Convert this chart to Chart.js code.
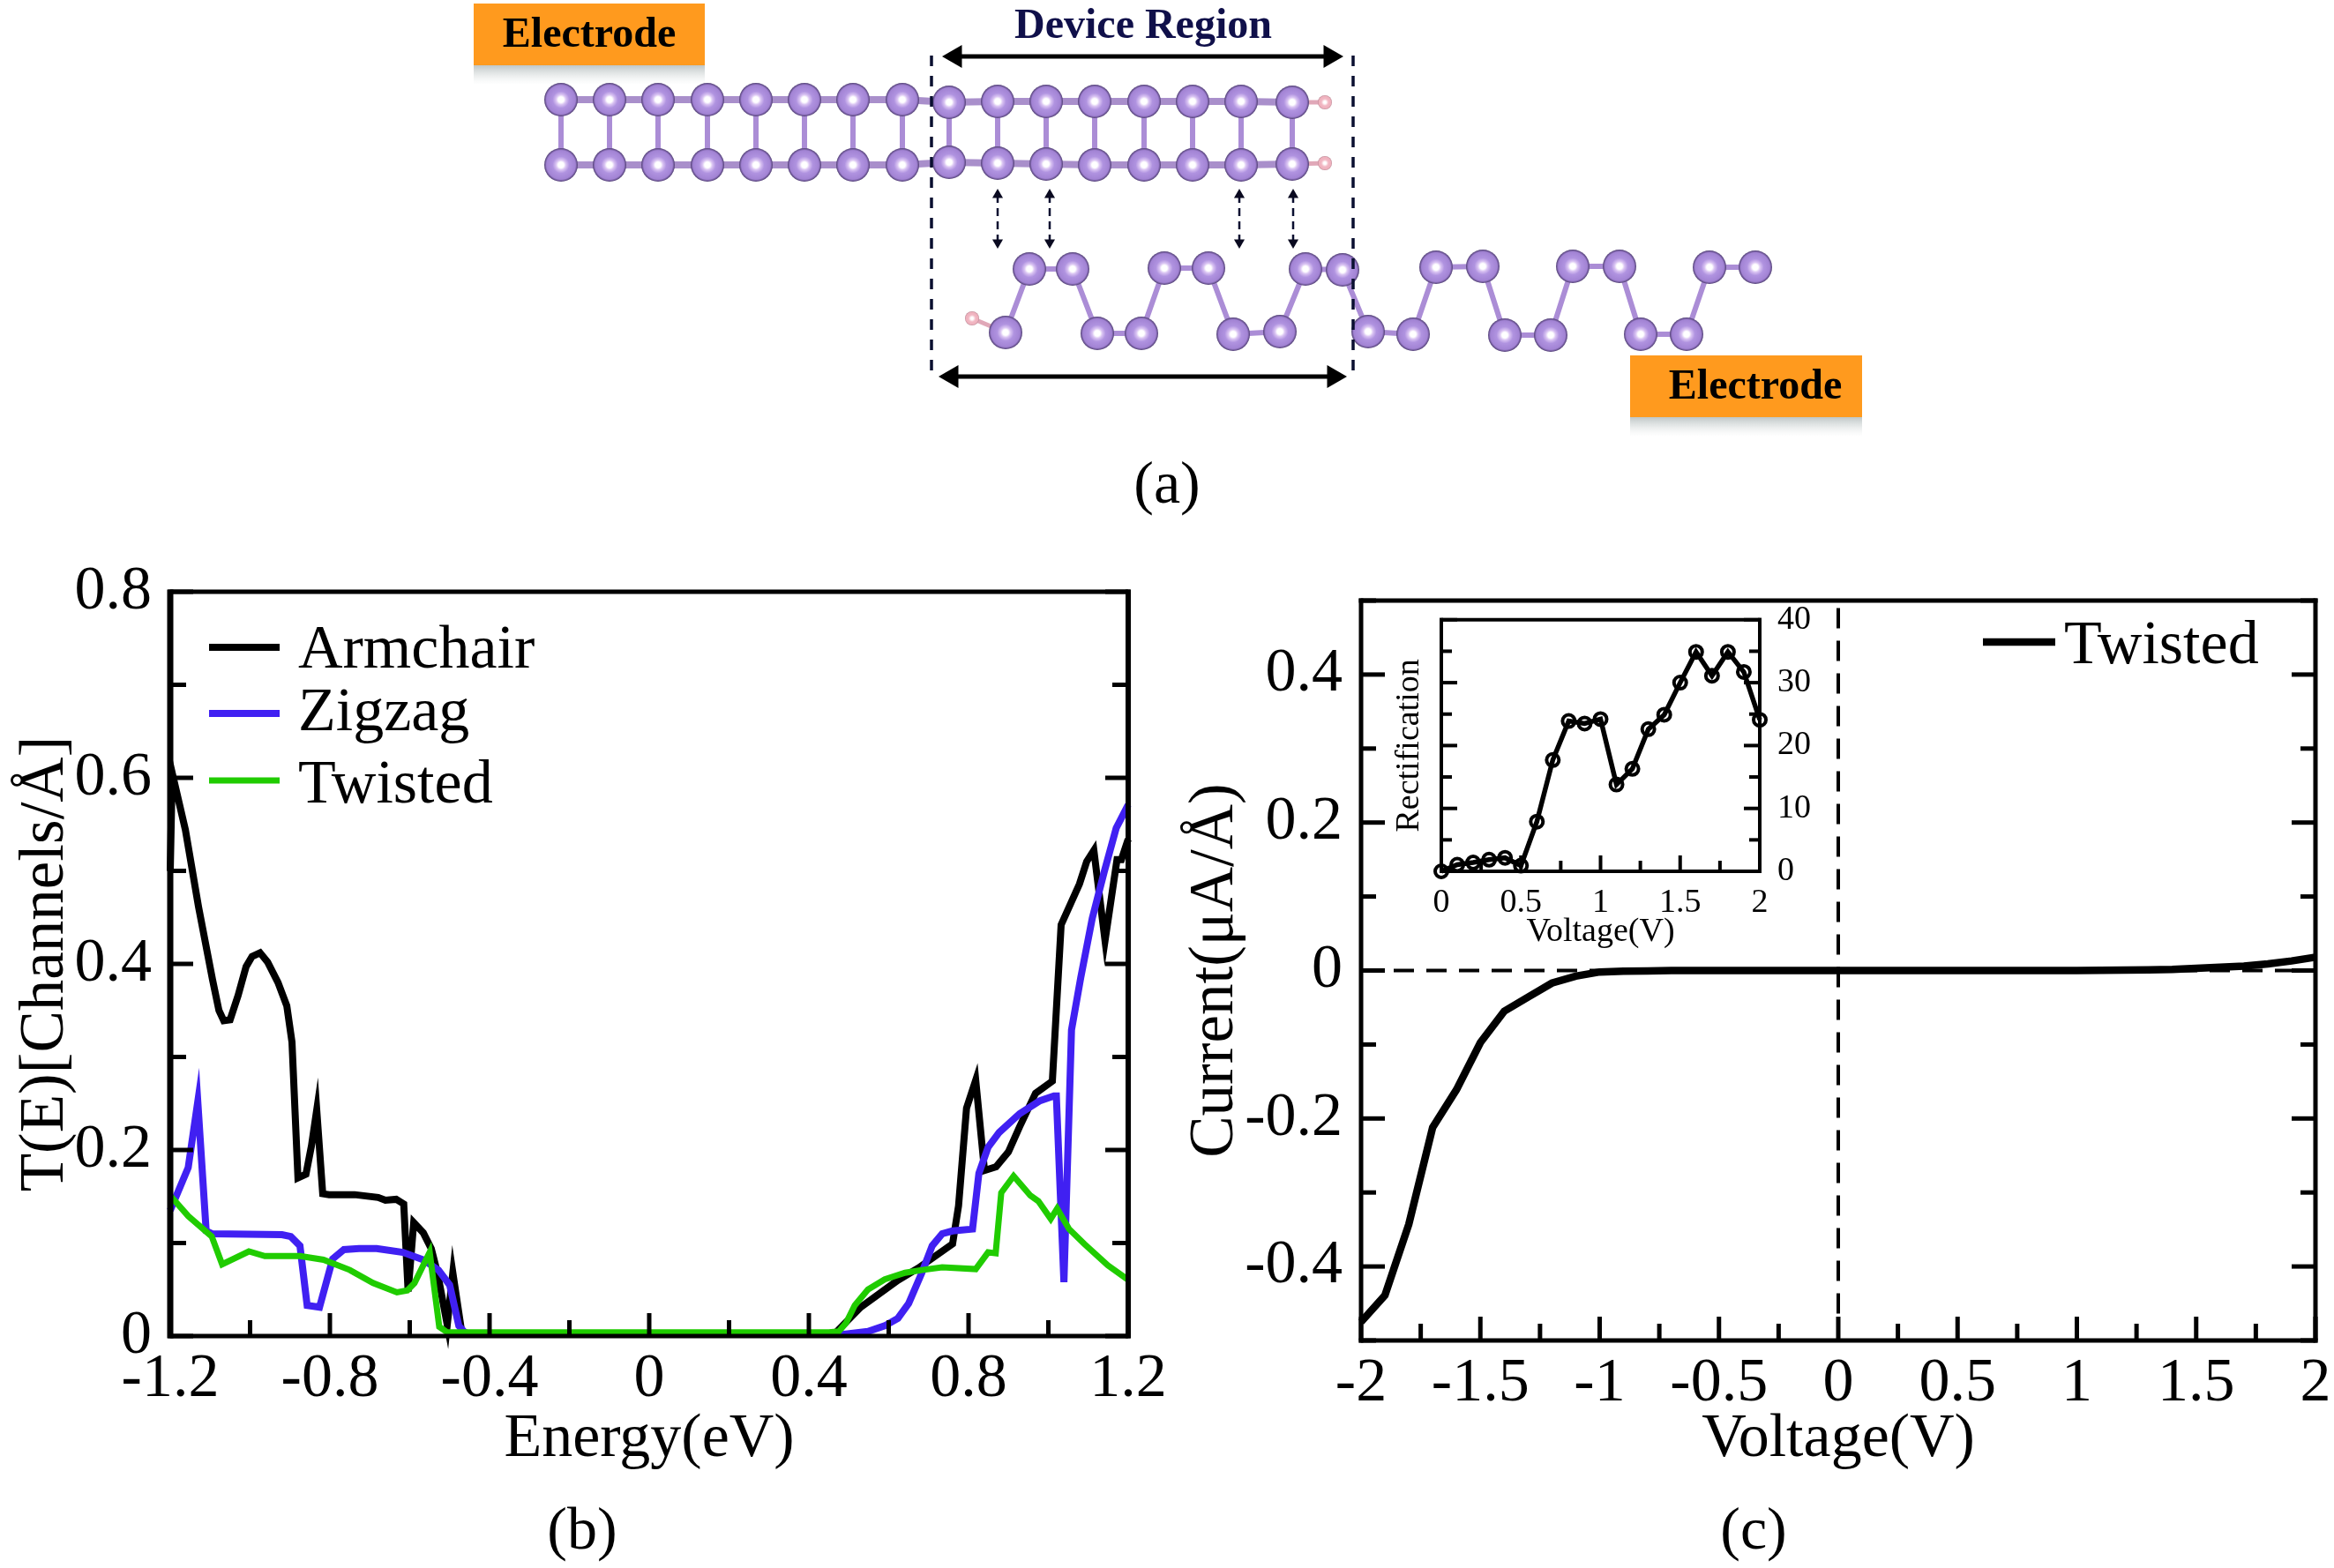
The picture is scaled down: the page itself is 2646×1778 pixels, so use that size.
<!DOCTYPE html>
<html>
<head>
<meta charset="utf-8">
<title>Device schematic, transmission and current-voltage</title>
<script src="https://cdn.jsdelivr.net/npm/chart.js@4/dist/chart.umd.min.js"></script>
<style>
html,body{margin:0;padding:0;background:#fff;width:2646px;height:1778px;overflow:hidden}
canvas{position:absolute;display:block}
</style>
</head>
<body>
<canvas id="schematic" width="2646" height="1778" style="left:0px;top:0px"></canvas>
<canvas id="chartB" width="1360" height="1100" style="left:0px;top:608px"></canvas>
<canvas id="chartC" width="1346" height="1090" style="left:1320px;top:618px"></canvas>
<canvas id="inset" width="500" height="420" style="left:1560px;top:660px"></canvas>
<script>
/* ---------- panel (b): transmission ---------- */
const energyArmchair = [-1.2,-1.195,-1.162,-1.129,-1.094,-1.078,-1.066,-1.05,-1.03,-1.01,-0.995,-0.975,-0.956,-0.93,-0.908,-0.895,-0.88,-0.86,-0.846,-0.833,-0.818,-0.802,-0.738,-0.679,-0.661,-0.634,-0.615,-0.604,-0.59,-0.566,-0.546,-0.53,-0.506,-0.492,-0.47,-0.45,0.45,0.466,0.53,0.623,0.674,0.76,0.775,0.795,0.818,0.84,0.869,0.9,0.928,0.968,1.01,1.032,1.078,1.096,1.114,1.142,1.172,1.183,1.2];
const transArmchair = [0.5,0.605,0.544,0.461,0.383,0.35,0.339,0.34,0.366,0.397,0.408,0.412,0.402,0.38,0.355,0.316,0.17,0.174,0.205,0.243,0.153,0.152,0.152,0.149,0.146,0.147,0.142,0.048,0.122,0.111,0.094,0.067,0.012,0.068,0.005,0.002,0.002,0.003,0.031,0.06,0.073,0.099,0.14,0.245,0.275,0.178,0.182,0.198,0.225,0.261,0.274,0.442,0.486,0.51,0.522,0.425,0.512,0.512,0.534];
const energyZigzag = [-1.2,-1.155,-1.131,-1.11,-1.096,-0.92,-0.898,-0.875,-0.857,-0.826,-0.793,-0.765,-0.727,-0.683,-0.617,-0.566,-0.528,-0.5,-0.477,-0.46,-0.449,0.488,0.548,0.59,0.623,0.65,0.683,0.709,0.734,0.76,0.81,0.826,0.849,0.877,0.928,0.979,1.014,1.02,1.039,1.058,1.081,1.11,1.14,1.17,1.2];
const transZigzag = [0.135,0.181,0.252,0.113,0.11,0.109,0.107,0.097,0.033,0.031,0.083,0.093,0.094,0.094,0.09,0.082,0.071,0.055,0.011,0.003,0.002,0.002,0.005,0.011,0.019,0.035,0.068,0.097,0.11,0.113,0.115,0.175,0.203,0.219,0.239,0.253,0.258,0.258,0.058,0.329,0.385,0.449,0.499,0.546,0.571];
const energyTwisted = [-1.198,-1.155,-1.096,-1.07,-1.003,-0.963,-0.875,-0.816,-0.75,-0.692,-0.632,-0.606,-0.588,-0.55,-0.526,-0.506,-0.45,0.45,0.475,0.493,0.515,0.548,0.59,0.641,0.683,0.734,0.818,0.849,0.868,0.882,0.913,0.955,0.975,1.006,1.022,1.052,1.09,1.149,1.198];
const transTwisted = [0.15,0.129,0.107,0.077,0.091,0.086,0.086,0.082,0.071,0.057,0.047,0.049,0.057,0.09,0.01,0.004,0.004,0.004,0.005,0.014,0.033,0.05,0.061,0.068,0.071,0.074,0.072,0.09,0.089,0.154,0.172,0.151,0.145,0.126,0.137,0.115,0.099,0.076,0.061];
const energyTicks = [-1.2,-0.8,-0.4,0,0.4,0.8,1.2];
const energyMinor = [-1,-0.6,-0.2,0.2,0.6,1];
const transTicks = [0,0.2,0.4,0.6,0.8];
const transMinor = [0.1,0.3,0.5,0.7];

/* ---------- panel (c): current-voltage ---------- */
const voltage = [-2,-1.9,-1.8,-1.7,-1.6,-1.5,-1.4,-1.3,-1.2,-1.1,-1,-0.9,-0.8,-0.7,-0.6,-0.5,-0.4,-0.3,-0.2,-0.1,0,0.1,0.2,0.3,0.4,0.5,0.6,0.7,0.8,0.9,1,1.1,1.2,1.3,1.4,1.5,1.6,1.7,1.8,1.9,2];
const current = [-0.475,-0.439,-0.343,-0.212,-0.161,-0.0975,-0.055,-0.036,-0.017,-0.0076,-0.002,-0.001,-0.0005,0,0,0,0,0,0,0,0,0,0,0,0,0,0,0,0,0,0,0.0002,0.0005,0.001,0.0015,0.003,0.0045,0.006,0.009,0.013,0.018];
const voltTicks = [-2,-1.5,-1,-0.5,0,0.5,1,1.5,2];
const voltMinor = [-1.75,-1.25,-0.75,-0.25,0.25,0.75,1.25,1.75];
const currTicks = [-0.4,-0.2,0,0.2,0.4];
const currMinor = [-0.5,-0.3,-0.1,0.1,0.3,0.5];

/* ---------- inset: rectification ---------- */
const insetVoltage = [0,0.1,0.2,0.3,0.4,0.5,0.6,0.7,0.8,0.9,1,1.1,1.2,1.3,1.4,1.5,1.6,1.7,1.8,1.9,2];
const rectification = [0,1.05,1.4,1.85,2.15,0.9,7.9,17.7,23.9,23.5,24.2,13.8,16.3,22.6,24.9,30,34.9,31.1,34.9,31.7,24.1];
const insetXTicks = [0,0.5,1,1.5,2];
const insetXMinor = [0.25,0.75,1.25,1.75];
const insetYTicks = [0,10,20,30,40];
const insetYMinor = [5,15,25,35];

/* ---------- panel (a): schematic, in page units ---------- */
const armTopX = [636,691,746,802,857,912,967,1023,1076,1131,1186,1241,1297,1352,1407,1465];
const armTopY = [113,113,113,113,113,113,113,113,116,115,115,115,115,115,115,116];
const armBotY = [187,187,187,187,187,187,187,187,184,185,186,187,187,187,187,186];
const twistX = [1140,1167,1216,1244,1294,1320,1370,1398,1451,1480,1522,1551,1602,1628,1681,1706,1758,1783,1836,1860,1912,1938,1990];
const twistY = [377,305,305,378,378,304,304,379,376,305,306,376,379,303,302,380,380,302,302,379,379,303,303];
const hydrogenX = [1502,1502,1102];
const hydrogenY = [116,185,361];
const deviceFrameX = [1056,1534];
const deviceFrameY = [63,425];
const smallArrowX = [1131,1190,1405,1466];
const smallArrowY = [221,275];
const spanArrowTopX = [1083,1508];
const spanArrowTopY = [64,64];
const spanArrowBottomX = [1079,1512];
const spanArrowBottomY = [427,427];

const SERIF = "'Liberation Serif','Times New Roman',serif";
const NAVY = '#0a0f30';

function pts(xs, ys){ return xs.map((x,i)=>({x, y:ys[i]})); }
function pairs(list){ const out=[]; list.forEach(([a,b])=>{out.push(a,b,{x:NaN,y:NaN});}); return out; }

function sprite(r, hi, mid, body, rim){
  const c=document.createElement('canvas'); c.width=c.height=2*r+2;
  const g=c.getContext('2d');
  const grad=g.createRadialGradient(r+1,r+1,0,r+1,r+1,r);
  grad.addColorStop(0,'#ffffff'); grad.addColorStop(0.17,'#ffffff'); grad.addColorStop(0.3,hi); grad.addColorStop(0.5,mid);
  grad.addColorStop(0.86,body); grad.addColorStop(1,rim);
  g.fillStyle=grad; g.beginPath(); g.arc(r+1,r+1,r,0,Math.PI*2); g.fill();
  return c;
}
const atomSprite = sprite(19,'#d9c3f2','#b093e0','#a283d4','#4f3d72');
const hSprite = sprite(8,'#fbe6ea','#f2b8c4','#eeb0bc','#b98694');

/* frame and inward ticks, positioned through the chart's own scales */
function framePlugin(c){
  return {id:'frame', afterDatasetsDraw(chart){
    const ctx=chart.ctx, a=chart.chartArea, xs=chart.scales.x, ys=chart.scales.y;
    ctx.save(); ctx.strokeStyle='#000'; ctx.lineCap='butt';
    const seg=(x1,y1,x2,y2,w)=>{ctx.lineWidth=w;ctx.beginPath();ctx.moveTo(x1,y1);ctx.lineTo(x2,y2);ctx.stroke();};
    const pad=c.top/2;
    seg(a.left-pad,a.top,a.right+pad,a.top,c.top);
    seg(a.left-pad,a.bottom,a.right+pad,a.bottom,c.bottom);
    seg(a.left,a.top-pad,a.left,a.bottom+pad,c.left);
    seg(a.right,a.top-pad,a.right,a.bottom+pad,c.right);
    const xt=(v,l)=>{const p=xs.getPixelForValue(v);seg(p,a.bottom,p,a.bottom-l,c.tick);};
    const yt=(v,l)=>{const p=ys.getPixelForValue(v);seg(a.left,p,a.left+l,p,c.tick);seg(a.right,p,a.right-l,p,c.tick);};
    c.xMajor.forEach(v=>xt(v,c.lenX[0])); c.xMinor.forEach(v=>xt(v,c.lenX[1]));
    c.yMajor.forEach(v=>yt(v,c.lenY[0])); c.yMinor.forEach(v=>yt(v,c.lenY[1]));
    ctx.restore();
  }};
}

/* line-and-label key, read from the datasets */
function keyPlugin(keys){
  return {id:'key', afterDraw(chart){
    const ctx=chart.ctx;
    ctx.save(); ctx.textAlign='left'; ctx.textBaseline='alphabetic'; ctx.fillStyle='#000';
    ctx.font='70px '+SERIF;
    keys.forEach(k=>{
      const ds=chart.data.datasets[k.index];
      ctx.strokeStyle=ds.borderColor; ctx.lineWidth=ds.borderWidth;
      ctx.beginPath(); ctx.moveTo(k.x1,k.y); ctx.lineTo(k.x2,k.y); ctx.stroke();
      ctx.fillText(ds.label,k.tx,k.by);
    });
    ctx.restore();
  }};
}

function axisCommon(ticks, fontSize, pad, labelOffset){
  return {
    type:'linear', border:{display:false}, grid:{display:false,drawTicks:false},
    afterBuildTicks(s){ s.ticks=ticks.map(v=>({value:v})); },
    ticks:{autoSkip:false,maxRotation:0,minRotation:0,padding:pad,labelOffset:labelOffset||0,color:'#000',font:{family:SERIF,size:fontSize},callback:v=>String(v)}
  };
}
function title(text,size,padTop){ return {display:true,text,color:'#000',font:{family:SERIF,size},padding:{top:padTop,bottom:0}}; }
function base(){ return {responsive:false,animation:false,devicePixelRatio:1,plugins:{legend:{display:false},tooltip:{enabled:false},title:{display:false}}}; }
function lineSet(label,xs,ys,color,width,order,extra){
  return Object.assign({label,data:pts(xs,ys),borderColor:color,borderWidth:width,showLine:true,pointRadius:0,tension:0,
    borderJoinStyle:'miter',borderCapStyle:'butt',clip:false,order},extra||{});
}

/* ---------- chart (b) ---------- */
new Chart(document.getElementById('chartB'),{
  type:'scatter',
  data:{datasets:[
    lineSet('Armchair',energyArmchair,transArmchair,'#000000',8,3),
    lineSet('Zigzag',energyZigzag,transZigzag,'#4020f2',8,2),
    lineSet('Twisted',energyTwisted,transTwisted,'#20cc00',7,1)
  ]},
  options:Object.assign(base(),{
    layout:{autoPadding:false,padding:{left:0,top:60,right:81,bottom:33}},
    scales:{
      x:Object.assign(axisCommon(energyTicks,70,8),{min:-1.2,max:1.2,title:title('Energy(eV)',70,0),afterFit(s){s.height=160;}}),
      y:Object.assign(axisCommon(transTicks,70,21,1),{min:0,max:0.8,title:title('T(E)[Channels/Å]',71,10),afterFit(s){s.width=193;}})
    }
  }),
  plugins:[
    framePlugin({top:5,bottom:5,left:7,right:6,tick:5,xMajor:energyTicks,xMinor:energyMinor,yMajor:transTicks,yMinor:transMinor,lenX:[26,18],lenY:[26,18]}),
    keyPlugin([
      {index:0,x1:237,x2:317,y:734-608,tx:338,by:757-608},
      {index:1,x1:237,x2:317,y:809-608,tx:338,by:828-608},
      {index:2,x1:237,x2:317,y:885-608,tx:338,by:910-608}
    ])
  ]
});

/* ---------- chart (c) ---------- */
new Chart(document.getElementById('chartC'),{
  type:'scatter',
  data:{datasets:[
    lineSet('Twisted',voltage,current,'#000000',8.5,1),
    lineSet('zero current',[-2,2],[0,0],'#000000',4,2,{borderDash:[23,14]}),
    lineSet('zero voltage',[0,0],[0.49,-0.5],'#000000',4,2,{borderDash:[23,14]})
  ]},
  options:Object.assign(base(),{
    layout:{autoPadding:false,padding:{left:0,top:60,right:41,bottom:33}},
    scales:{
      x:Object.assign(axisCommon(voltTicks,70,8),{min:-2,max:2,title:title('Voltage(V)',70,0),afterFit(s){s.height=155;}}),
      y:Object.assign(axisCommon(currTicks,70,21),{min:-0.5,max:0.5,title:title('Current(μA/Å)',71,16),afterFit(s){s.width=223;}})
    }
  }),
  plugins:[
    framePlugin({top:5,bottom:5,left:5,right:5,tick:5,xMajor:voltTicks,xMinor:voltMinor,yMajor:currTicks,yMinor:currMinor,lenX:[27,19],lenY:[27,17]}),
    keyPlugin([{index:0,x1:2248-1320,x2:2330-1320,y:728-618,tx:2340-1320,by:752-618}])
  ]
});

/* ---------- inset ---------- */
new Chart(document.getElementById('inset'),{
  type:'scatter',
  data:{datasets:[
    lineSet('Rectification',insetVoltage,rectification,'#000000',5.5,1,{pointRadius:7,pointBorderWidth:4,pointBorderColor:'#000',pointBackgroundColor:'rgba(0,0,0,0)'})
  ]},
  options:Object.assign(base(),{
    layout:{autoPadding:false,padding:{left:0,top:38,right:0,bottom:0}},
    scales:{
      x:Object.assign(axisCommon(insetXTicks,38,13),{min:0,max:2,title:title('Voltage(V)',38,0),afterFit(s){s.height=92;}}),
      y:Object.assign(axisCommon(insetYTicks,38,20),{position:'right',min:0,max:40,afterFit(s){s.width=65;}}),
      yLabel:{type:'linear',axis:'y',position:'left',min:0,max:40,border:{display:false},grid:{display:false,drawTicks:false},ticks:{display:false},
        title:title('Rectification',38,15),afterFit(s){s.width=74;}}
    }
  }),
  plugins:[framePlugin({top:4,bottom:4,left:4,right:4,tick:4,xMajor:insetXTicks,xMinor:insetXMinor,yMajor:insetYTicks,yMinor:insetYMinor,lenX:[18,12],lenY:[18,12]})]
});

/* ---------- panel (a) ---------- */
const topBottomRungs = pairs(armTopX.map((x,i)=>[{x,y:armTopY[i]},{x,y:armBotY[i]}]));
const hBonds = pairs([
  [{x:armTopX[15],y:armTopY[15]},{x:hydrogenX[0],y:hydrogenY[0]}],
  [{x:armTopX[15],y:armBotY[15]},{x:hydrogenX[1],y:hydrogenY[1]}],
  [{x:twistX[0],y:twistY[0]},{x:hydrogenX[2],y:hydrogenY[2]}]
]);
const frameLines = pairs(deviceFrameX.map(x=>[{x,y:deviceFrameY[0]},{x,y:deviceFrameY[1]}]));
const smallLines = pairs(smallArrowX.map(x=>[{x,y:smallArrowY[0]},{x,y:smallArrowY[1]}]));

function sch(data,extra,order){
  return Object.assign({data,showLine:true,pointRadius:0,tension:0,clip:false,order,borderCapStyle:'butt'},extra);
}
function arrowHeads(points,rot,r,color,order){
  return {data:points,showLine:false,pointStyle:'triangle',pointRadius:r,pointRotation:rot,pointBackgroundColor:color,pointBorderWidth:0,order,clip:false};
}
const smallHeadPts=[]; const smallHeadRot=[];
smallArrowX.forEach(x=>{ smallHeadPts.push({x,y:smallArrowY[0]},{x,y:smallArrowY[1]}); smallHeadRot.push(0,180); });

const boxes=[{x:537,y:4,w:262,h:70,text:'Electrode',tx:668},{x:1848,y:403,w:263,h:70,text:'Electrode',tx:1990}];

new Chart(document.getElementById('schematic'),{
  type:'scatter',
  data:{datasets:[
    sch(topBottomRungs,{borderColor:'#ab8dd6',borderWidth:6},9),
    sch(pts(armTopX,armTopY),{borderColor:'#a98fcb',borderWidth:8},8),
    sch(pts(armTopX,armBotY),{borderColor:'#a98fcb',borderWidth:8},8),
    sch(pts(twistX,twistY),{borderColor:'#ab8dd6',borderWidth:6,borderJoinStyle:'round'},8),
    sch(hBonds,{borderColor:'#e0a8b8',borderWidth:5},8),
    {data:pts(hydrogenX,hydrogenY),showLine:false,pointStyle:hSprite,pointRadius:8,order:7,clip:false},
    {data:pts(armTopX,armTopY),showLine:false,pointStyle:atomSprite,pointRadius:19,order:6,clip:false},
    {data:pts(armTopX,armBotY),showLine:false,pointStyle:atomSprite,pointRadius:19,order:6,clip:false},
    {data:pts(twistX,twistY),showLine:false,pointStyle:atomSprite,pointRadius:19,order:6,clip:false},
    sch(frameLines,{borderColor:NAVY,borderWidth:3.5,borderDash:[12,11]},5),
    sch(smallLines,{borderColor:NAVY,borderWidth:2.5,borderDash:[9,6]},4),
    arrowHeads(smallHeadPts,smallHeadRot,7,'#0a0a20',3),
    sch(pts(spanArrowTopX,spanArrowTopY),{borderColor:'#000',borderWidth:5},2),
    sch(pts(spanArrowBottomX,spanArrowBottomY),{borderColor:'#000',borderWidth:5},2),
    arrowHeads(pts(spanArrowTopX,spanArrowTopY),[270,90],15,'#000',1),
    arrowHeads(pts(spanArrowBottomX,spanArrowBottomY),[270,90],15,'#000',1)
  ]},
  options:Object.assign(base(),{
    layout:{autoPadding:false,padding:0},
    scales:{
      x:{type:'linear',display:false,min:0,max:2646},
      y:{type:'linear',display:false,min:0,max:1778,reverse:true}
    }
  }),
  plugins:[{id:'labels',
    beforeDatasetsDraw(chart){
      const ctx=chart.ctx; ctx.save();
      boxes.forEach(b=>{
        const g=ctx.createLinearGradient(0,b.y+b.h,0,b.y+b.h+22);
        g.addColorStop(0,'rgba(170,180,180,0.75)'); g.addColorStop(1,'rgba(220,225,225,0)');
        ctx.fillStyle=g; ctx.fillRect(b.x,b.y+b.h,b.w,22);
        ctx.fillStyle='#ff9a1e'; ctx.fillRect(b.x,b.y,b.w,b.h);
      });
      ctx.restore();
    },
    afterDraw(chart){
      const ctx=chart.ctx; ctx.save();
      ctx.textAlign='center'; ctx.textBaseline='middle'; ctx.fillStyle='#000';
      ctx.font='bold 48px '+SERIF;
      boxes.forEach(b=>ctx.fillText(b.text,b.tx,b.y+b.h/2+2));
      ctx.fillStyle='#10104a';
      ctx.fillText('Device Region',1296,31);
      ctx.fillStyle='#000';
      ctx.font='68px '+SERIF;
      ctx.fillText('(a)',1323,552);
      ctx.fillText('(b)',660,1738);
      ctx.fillText('(c)',1988,1738);
      ctx.restore();
    }
  }]
});
</script>
</body>
</html>
